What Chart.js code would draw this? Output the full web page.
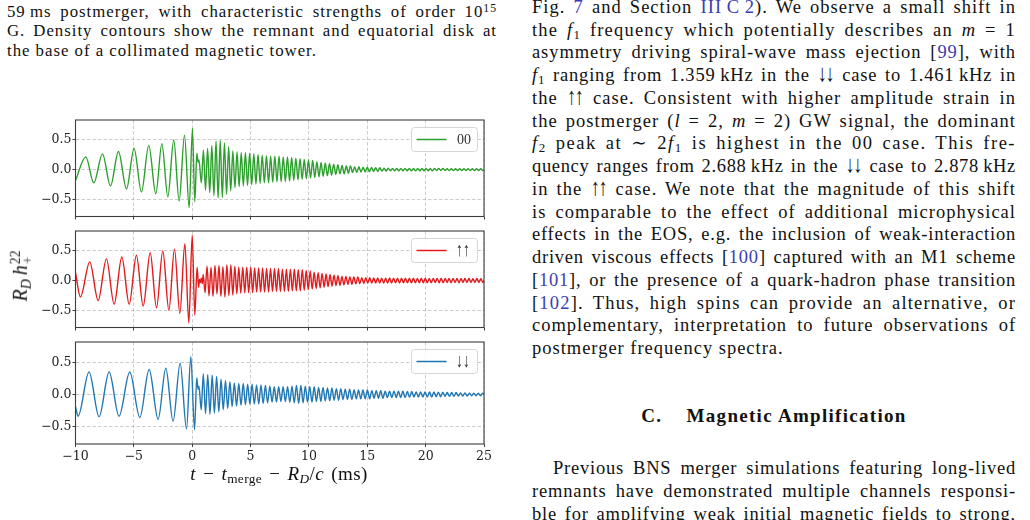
<!DOCTYPE html>
<html><head><meta charset="utf-8">
<script src="https://cdn.jsdelivr.net/npm/chart.js@4.4.0/dist/chart.umd.min.js"></script>
<style>
html,body{margin:0;padding:0;background:#fff;width:1030px;height:520px;overflow:hidden;position:relative}
.col{position:absolute;font-family:"Liberation Serif","DejaVu Serif",serif;color:#111}
.col div{white-space:nowrap;overflow:visible}
.j{text-align:justify;text-align-last:justify}
.c{color:#3c3cb4}
sub,sup{line-height:0;font-size:0.7em}
sub{vertical-align:-0.25em} sup{vertical-align:0.45em}
.ar{display:inline-block;transform:scaleY(1.3);transform-origin:50% 75%;letter-spacing:-1.5px !important;margin-right:1.5px}
.lbl{position:absolute;font-family:"Liberation Serif","DejaVu Serif",serif;color:#111;white-space:nowrap}
canvas{position:absolute;left:0}
.stk{display:inline-flex;flex-direction:column;font-size:0.68em;line-height:0.95;vertical-align:0.55em;margin-left:1px}
</style></head>
<body>
<div class="col fit" style="left:7px;top:1.7px;width:490px;font-size:16.8px;line-height:19.8px">
<div class="j">59&thinsp;ms postmerger, with characteristic strengths of order 10<sup>15</sup></div>
<div class="j">G. Density contours show the remnant and equatorial disk at</div>
<div>the base of a collimated magnetic tower.</div>
</div>

<div class="col fit" style="left:532px;top:-4.1px;width:484px;font-size:18.5px;line-height:22.75px">
<div class="j">Fig. <span class="c">7</span> and Section <span class="c">III&thinsp;C&thinsp;2</span>).  We observe a small shift in</div>
<div class="j">the <i>f</i><sub>1</sub> frequency which potentially describes an <i>m</i> = 1</div>
<div class="j">asymmetry driving spiral-wave mass ejection [<span class="c">99</span>], with</div>
<div class="j"><i>f</i><sub>1</sub> ranging from 1.359&thinsp;kHz in the <span class="ar">↓↓</span> case to 1.461&thinsp;kHz in</div>
<div class="j">the <span class="ar">↑↑</span> case. Consistent with higher amplitude strain in</div>
<div class="j">the postmerger (<i>l</i> = 2, <i>m</i> = 2) GW signal, the dominant</div>
<div class="j"><i>f</i><sub>2</sub> peak at ∼ 2<i>f</i><sub>1</sub> is highest in the 00 case.  This fre-</div>
<div class="j">quency ranges from 2.688&thinsp;kHz in the <span class="ar">↓↓</span> case to 2.878&thinsp;kHz</div>
<div class="j">in the <span class="ar">↑↑</span> case. We note that the magnitude of this shift</div>
<div class="j">is comparable to the effect of additional microphysical</div>
<div class="j">effects in the EOS, e.g. the inclusion of weak-interaction</div>
<div class="j">driven viscous effects [<span class="c">100</span>] captured with an M1 scheme</div>
<div class="j">[<span class="c">101</span>], or the presence of a quark-hadron phase transition</div>
<div class="j">[<span class="c">102</span>].  Thus, high spins can provide an alternative, or</div>
<div class="j">complementary, interpretation to future observations of</div>
<div>postmerger frequency spectra.</div>
</div>

<div class="col" style="left:532px;top:405.4px;width:484px;font-size:19px;line-height:22.75px;text-align:center;font-weight:bold;letter-spacing:1.3px">
<div>C.&nbsp;&nbsp;&nbsp;&nbsp;Magnetic Amplification</div>
</div>

<div class="col fit" style="left:532px;top:457.4px;width:484px;font-size:18.5px;line-height:22.75px">
<div class="j" style="padding-left:21px">Previous BNS merger simulations featuring long-lived</div>
<div class="j">remnants have demonstrated multiple channels responsi-</div>
<div class="j">ble for amplifying weak initial magnetic fields to strong,</div>
</div>

<canvas id="c1" width="500" height="115" style="top:110px"></canvas>
<canvas id="c2" width="500" height="115" style="top:221px"></canvas>
<canvas id="c3" width="500" height="132" style="top:332px"></canvas>

<div class="lbl" style="left:22px;top:276px;font-size:20px;transform:translate(-50%,-50%) rotate(-90deg)"><i>R<sub>D</sub></i>&thinsp;<i>h</i><span class="stk"><span>22</span><span>+</span></span></div>
<div class="lbl" style="left:279px;top:474px;font-size:19px;word-spacing:2px;letter-spacing:0.4px;transform:translate(-50%,-50%)"><i>t</i> − <i>t</i><sub>merge</sub> − <i>R<sub>D</sub></i>/<i>c</i> (ms)</div>

<script>
// ---- data (time in ms, strain R_D h_+^22) ----
const xTicks = [-10, -5, 0, 5, 10, 15, 20, 25];
const yTicks = [-0.5, 0, 0.5];
const seriesLabels = ['00', '\u2191\u2191', '\u2193\u2193'];

const wave00 = [
[-10,-0.18],[-9.12,0.21],[-8.43,-0.22],[-7.69,0.26],[-7.00,-0.27],[-6.32,0.30],[-5.63,-0.32],[-4.98,0.35],[-4.35,-0.37],[-3.72,0.40],[-3.12,-0.40],[-2.60,0.43],[-2.09,-0.45],[-1.58,0.49],[-1.12,-0.52],[-0.66,0.57],[-0.26,-0.63],[0.02,0.68],[0.22,-0.53],[0.40,0.27],[0.50,0.12],[0.58,0.16],[0.78,-0.22],
[0.96,0.32],[1.14,-0.34],[1.32,0.35],[1.50,-0.38],[1.68,0.40],[1.86,-0.43],[2.04,0.47],[2.22,-0.47],[2.40,0.48],[2.58,-0.46],[2.76,0.44],[2.94,-0.41],[3.12,0.38],[3.30,-0.35],[3.48,0.31],[3.66,-0.30],[3.84,0.29],[4.02,-0.28],[4.20,0.28],[4.38,-0.27],[4.56,0.28],[4.74,-0.26],[4.92,0.27],[5.10,-0.25],[5.28,0.26],[5.46,-0.24],[5.64,0.25],[5.82,-0.23],[6.00,0.24],[6.18,-0.22],[6.36,0.23],[6.54,-0.22],[6.72,0.22],[6.90,-0.21],[7.08,0.22],[7.26,-0.20],[7.44,0.22],[7.62,-0.20],[7.80,0.21],[7.98,-0.20],[8.16,0.21],[8.34,-0.19],[8.52,0.20],[8.70,-0.18],[8.88,0.19],[9.06,-0.17],[9.24,0.18],[9.42,-0.16],[9.60,0.17],[9.78,-0.15],[9.96,0.16],[10.14,-0.14],[10.32,0.15],[10.50,-0.13],[10.68,0.13],[10.86,-0.12],[11.04,0.12],[11.22,-0.11],[11.40,0.11],[11.58,-0.10],[11.76,0.10],[11.94,-0.09],[12.12,0.09],[12.30,-0.08],[12.48,0.08],[12.66,-0.07],[12.84,0.07],[13.02,-0.07],[13.20,0.06],[13.38,-0.06],[13.56,0.06],[13.74,-0.05],[13.92,0.05],[14.10,-0.05],[14.28,0.05],[14.46,-0.04],[14.64,0.04],[14.82,-0.04],[15.00,0.04],[15.18,-0.035],[15.36,0.035],[15.54,-0.03],[15.72,0.03],[15.90,-0.03],[16.08,0.03],[16.26,-0.025],[16.44,0.025],[16.62,-0.025],[16.80,0.025],[16.98,-0.02],
[17.16,0.02],[17.34,-0.02],[17.52,0.02],[17.70,-0.02],[17.88,0.02],[18.06,-0.02],[18.24,0.02],[18.42,-0.02],[18.60,0.02],[18.78,-0.02],[18.96,0.02],[19.14,-0.02],[19.32,0.02],[19.50,-0.02],[19.68,0.02],[19.86,-0.02],[20.04,0.02],[20.22,-0.02],[20.40,0.02],[20.58,-0.02],[20.76,0.02],[20.94,-0.015],[21.12,0.02],[21.30,-0.015],[21.48,0.02],[21.66,-0.015],[21.84,0.015],[22.02,-0.015],[22.20,0.015],[22.38,-0.015],[22.56,0.015],[22.74,-0.015],[22.92,0.015],[23.10,-0.015],[23.28,0.015],[23.46,-0.015],[23.64,0.015],[23.82,-0.015],[24.00,0.015],[24.18,-0.015],[24.36,0.015],[24.54,-0.015],[24.72,0.015],[24.90,-0.015],[25.00,0.0]
];

const waveUpUp = [
[-10,0.13],[-9.58,-0.27],[-8.78,0.31],[-8.06,-0.33],[-7.35,0.36],[-6.69,-0.39],[-6.03,0.39],[-5.40,-0.39],[-4.78,0.42],[-4.20,-0.42],[-3.60,0.46],[-3.06,-0.45],[-2.52,0.49],[-2.00,-0.49],[-1.52,0.52],[-1.06,-0.54],[-0.63,0.61],[-0.29,-0.70],[0.00,0.75],[0.22,-0.57],[0.42,0.22],[0.55,-0.11],[0.62,0.02],[0.70,-0.03],[0.78,0.04],[0.86,-0.05],[0.94,0.10],
[1.10,-0.20],[1.27,0.24],[1.44,-0.25],[1.61,0.22],[1.78,-0.26],[1.95,0.25],[2.12,-0.22],[2.29,0.25],[2.46,-0.26],[2.63,0.23],[2.80,-0.27],[2.97,0.26],[3.14,-0.25],[3.31,0.26],[3.48,-0.24],[3.65,0.24],[3.82,-0.22],[3.99,0.22],[4.16,-0.21],[4.33,0.22],[4.50,-0.20],[4.67,0.22],[4.84,-0.20],[5.01,0.22],[5.18,-0.20],[5.35,0.21],[5.52,-0.19],[5.69,0.21],[5.86,-0.19],[6.03,0.21],[6.20,-0.19],[6.37,0.20],[6.54,-0.19],[6.71,0.20],[6.88,-0.18],[7.05,0.20],[7.22,-0.18],[7.39,0.20],[7.56,-0.18],[7.73,0.19],[7.90,-0.18],[8.07,0.19],[8.24,-0.18],[8.41,0.19],[8.58,-0.17],[8.75,0.19],[8.92,-0.17],[9.09,0.18],[9.26,-0.17],[9.43,0.18],[9.60,-0.16],[9.77,0.17],[9.94,-0.15],[10.11,0.16],[10.28,-0.14],[10.45,0.14],[10.62,-0.13],[10.79,0.13],[10.96,-0.12],[11.13,0.12],[11.30,-0.11],[11.47,0.11],[11.64,-0.10],[11.81,0.10],[11.98,-0.09],[12.15,0.09],[12.32,-0.08],[12.49,0.08],[12.66,-0.08],[12.83,0.07],[13.00,-0.07],[13.17,0.07],[13.34,-0.06],[13.51,0.06],[13.68,-0.06],[13.85,0.06],[14.02,-0.05],[14.19,0.06],[14.36,-0.05],[14.53,0.05],[14.70,-0.05],[14.87,0.05],[15.04,-0.04],[15.21,0.05],
[15.38,-0.04],[15.55,0.045],[15.72,-0.04],[15.89,0.045],[16.06,-0.04],[16.23,0.04],[16.40,-0.04],[16.57,0.04],[16.74,-0.04],[16.91,0.045],[17.08,-0.04],[17.25,0.04],[17.42,-0.035],[17.59,0.04],[17.76,-0.04],[17.93,0.04],[18.10,-0.035],[18.27,0.04],[18.44,-0.035],[18.61,0.04],[18.78,-0.035],[18.95,0.04],[19.12,-0.035],[19.29,0.035],[19.46,-0.035],[19.63,0.04],[19.80,-0.035],[19.97,0.04],[20.14,-0.035],[20.31,0.035],[20.48,-0.035],[20.65,0.035],[20.82,-0.03],[20.99,0.035],[21.16,-0.035],[21.33,0.04],[21.50,-0.035],[21.67,0.035],[21.84,-0.03],[22.01,0.035],[22.18,-0.035],[22.35,0.035],[22.52,-0.03],[22.69,0.035],[22.86,-0.035],[23.03,0.035],[23.20,-0.03],[23.37,0.035],[23.54,-0.03],[23.71,0.035],[23.88,-0.03],[24.05,0.03],[24.22,-0.03],[24.39,0.035],[24.56,-0.03],[24.73,0.03],[24.90,-0.03],[25.00,0.0]
];

const waveDownDown = [
[-10,-0.19],[-9.78,-0.34],[-8.84,0.35],[-7.98,-0.35],[-7.12,0.35],[-6.27,-0.34],[-5.35,0.35],[-4.49,-0.36],[-3.69,0.39],[-2.92,-0.39],[-2.26,0.41],[-1.64,-0.42],[-1.03,0.49],[-0.49,-0.54],[-0.12,0.59],[0.20,-0.55],[0.39,0.26],[0.50,0.08],[0.58,0.13],[0.77,-0.24],
[0.95,0.32],[1.14,-0.30],[1.33,0.31],[1.52,-0.31],[1.71,0.30],[1.90,-0.29],[2.09,0.28],[2.28,-0.27],[2.47,0.24],[2.66,-0.24],[2.85,0.22],[3.04,-0.22],[3.23,0.20],[3.42,-0.19],[3.61,0.18],[3.80,-0.18],[3.99,0.17],[4.18,-0.17],[4.37,0.17],[4.56,-0.16],[4.75,0.16],[4.94,-0.15],[5.13,0.16],[5.32,-0.15],[5.51,0.15],[5.70,-0.15],[5.89,0.15],[6.08,-0.14],[6.27,0.14],[6.46,-0.13],[6.65,0.13],[6.84,-0.12],[7.03,0.12],[7.22,-0.12],[7.41,0.12],[7.60,-0.11],[7.79,0.12],[7.98,-0.11],[8.17,0.12],[8.36,-0.12],[8.55,0.13],[8.74,-0.13],[8.93,0.14],[9.12,-0.14],[9.31,0.14],[9.50,-0.13],[9.69,0.13],[9.88,-0.12],[10.07,0.12],[10.26,-0.12],[10.45,0.12],[10.64,-0.11],[10.83,0.11],[11.02,-0.11],[11.21,0.11],[11.40,-0.10],[11.59,0.10],[11.78,-0.10],[11.97,0.10],[12.16,-0.09],[12.35,0.09],[12.54,-0.09],[12.73,0.09],[12.92,-0.08],[13.11,0.08],[13.30,-0.08],[13.49,0.08],[13.68,-0.08],[13.87,0.07],[14.06,-0.07],[14.25,0.07],[14.44,-0.07],[14.63,0.07],[14.82,-0.07],[15.01,0.07],[15.20,-0.07],[15.39,0.06],[15.58,-0.06],[15.77,0.06],[15.96,-0.06],[16.15,0.06],[16.34,-0.06],[16.53,0.05],[16.72,-0.05],[16.91,0.05],[17.10,-0.05],[17.29,0.05],[17.48,-0.05],[17.67,0.05],[17.86,-0.05],[18.05,0.05],[18.24,-0.05],[18.43,0.045],[18.62,-0.045],[18.81,0.045],[19.00,-0.04],[19.19,0.04],[19.38,-0.04],[19.57,0.04],[19.76,-0.04],[19.95,0.04],[20.14,-0.04],[20.33,0.04],[20.52,-0.04],[20.71,0.04],[20.90,-0.035],[21.09,0.035],[21.28,-0.035],[21.47,0.035],[21.66,-0.03],[21.85,0.03],[22.04,-0.03],[22.23,0.03],[22.42,-0.03],[22.61,0.03],[22.80,-0.025],[22.99,0.025],[23.18,-0.025],[23.37,0.025],[23.56,-0.025],[23.75,0.02],[23.94,-0.02],[24.13,0.02],[24.32,-0.02],[24.51,0.02],[24.70,-0.02],[24.89,0.02],[25.00,0.0]
];

// ---- text fitting (letter-spacing so justified lines resemble the wider original face) ----
document.querySelectorAll('.fit').forEach(block => {
  const lines = [...block.children];
  let sum = 0, cnt = 0;
  lines.forEach(d => {
    if (!d.classList.contains('j')) return;
    d.style.textAlign = 'left'; d.style.textAlignLast = 'left';
    const span = document.createElement('span');
    while (d.firstChild) span.appendChild(d.firstChild);
    d.appendChild(span);
    const pad = parseFloat(getComputedStyle(d).paddingLeft) || 0;
    const target = d.clientWidth - pad;
    const w0 = span.getBoundingClientRect().width;
    const n = span.textContent.length;
    let ls = (target - w0) * 0.7 / n;
    ls = Math.max(0, Math.min(1.8, ls));
    d.style.letterSpacing = ls + 'px';
    d.style.textAlign = ''; d.style.textAlignLast = '';
    sum += ls; cnt++;
  });
  const avg = cnt ? sum / cnt : 0;
  lines.forEach(d => { if (!d.classList.contains('j')) d.style.letterSpacing = avg + 'px'; });
});

// ---- chart styling / layout ----
const SERIF = '"Liberation Serif","DejaVu Serif",serif';
const TICKFONT = '"DejaVu Serif",serif';
const FRAME = '#3d3d3d';
const fmt = (v, d) => (v < 0 ? '\u2212' : '') + Math.abs(v).toFixed(d);

const framePlugin = {
  id: 'frame',
  afterDraw(chart) {
    const {ctx, chartArea: a} = chart;
    ctx.save();
    ctx.strokeStyle = FRAME; ctx.lineWidth = 1.1;
    ctx.strokeRect(a.left, a.top, a.right - a.left, a.bottom - a.top);
    ctx.restore();
  }
};
const boxLegend = {
  id: 'boxLegend',
  afterDraw(chart) {
    const ds = chart.data.datasets[0];
    const a = chart.chartArea, ctx = chart.ctx;
    const w = 66, h = 24, x = a.right - 7 - w, y = a.top + 7;
    ctx.save();
    ctx.beginPath(); ctx.roundRect(x + 0.5, y + 0.5, w, h, 3);
    ctx.fillStyle = 'rgba(255,255,255,0.85)'; ctx.fill();
    ctx.strokeStyle = '#d6d6d6'; ctx.lineWidth = 1; ctx.stroke();
    ctx.beginPath(); ctx.moveTo(x + 5.5, y + h / 2 + 0.5); ctx.lineTo(x + 35.5, y + h / 2 + 0.5);
    ctx.strokeStyle = ds.borderColor; ctx.lineWidth = 1.5; ctx.stroke();
    ctx.fillStyle = '#333'; ctx.textBaseline = 'middle';
    const isArrow = /[\u2191\u2193]/.test(ds.label);
    if (isArrow) {
      ctx.font = '14px ' + SERIF;
      ctx.translate(x + 45, y + h / 2 + 1);
      ctx.scale(1, 1.4);
      ctx.fillText(ds.label, 0, 0);
    } else {
      ctx.font = '14px ' + SERIF;
      ctx.fillText(ds.label, x + 46, y + h / 2 + 1);
    }
    ctx.restore();
  }
};

function makeChart(id, series, label, color, bottom) {
  return new Chart(document.getElementById(id), {
    type: 'line',
    data: { datasets: [{
      label, data: series.map(p => ({x: p[0], y: p[1]})),
      borderColor: color, borderWidth: 1.4, pointRadius: 0,
      cubicInterpolationMode: 'monotone', fill: false
    }]},
    options: {
      responsive: false, animation: false, devicePixelRatio: 1,
      layout: { padding: { top: 10, right: 16, left: 0, bottom: 0 } },
      plugins: { legend: { display: false }, tooltip: { enabled: false } },
      scales: {
        x: {
          type: 'linear', min: -10, max: 25,
          afterBuildTicks: s => { s.ticks = xTicks.map(v => ({value: v})); },
          afterFit: s => { s.height = bottom ? 20 : 3; },
          ticks: { display: bottom, autoSkip: false, maxRotation: 0, padding: 2, color: '#222',
                   font: { family: TICKFONT, size: 12.5 }, callback: v => fmt(v, 0) },
          grid: { color: 'rgba(150,150,150,0.6)', lineWidth: 0.8, tickLength: 3,
                  tickColor: FRAME, tickWidth: 1, tickBorderDash: [] },
          border: { display: false, dash: [3.5, 2] }
        },
        y: {
          type: 'linear', min: -0.775, max: 0.82,
          afterBuildTicks: s => { s.ticks = yTicks.map(v => ({value: v})); },
          afterFit: s => { s.width = 75.5; },
          ticks: { padding: 1, color: '#222', font: { family: TICKFONT, size: 12.5 }, callback: v => fmt(v, 1) },
          grid: { color: 'rgba(150,150,150,0.6)', lineWidth: 0.8, tickLength: 3,
                  tickColor: FRAME, tickWidth: 1, tickBorderDash: [] },
          border: { display: false, dash: [3.5, 2] }
        }
      }
    },
    plugins: [framePlugin, boxLegend]
  });
}

makeChart('c1', wave00, seriesLabels[0], '#2ca02c', false);
makeChart('c2', waveUpUp, seriesLabels[1], '#e41a1c', false);
makeChart('c3', waveDownDown, seriesLabels[2], '#1f77b4', true);
</script>
</body></html>
